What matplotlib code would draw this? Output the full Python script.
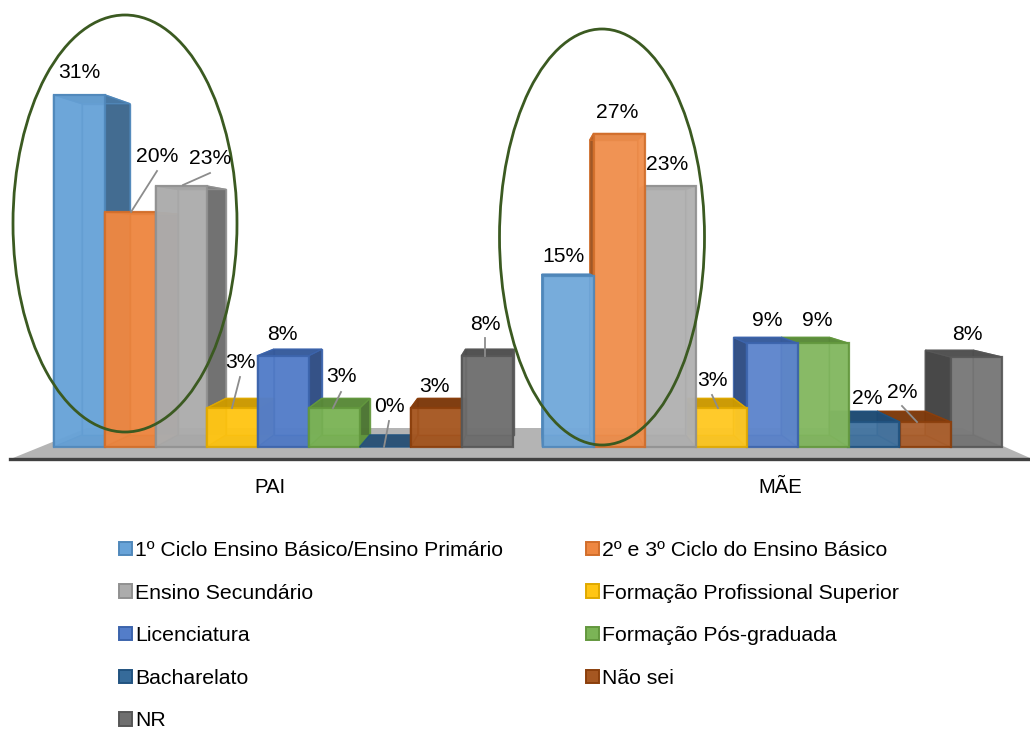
import matplotlib
matplotlib.use("Agg")
import matplotlib.pyplot as plt
from matplotlib.patches import Polygon, Ellipse, Patch
from matplotlib.colors import to_rgb

plt.rcParams['font.family'] = ['Liberation Sans', 'DejaVu Sans']

# ---- data ----
groups = ["PAI", "MÃE"]
series = ["1º Ciclo Ensino Básico/Ensino Primário", "2º e 3º Ciclo do Ensino Básico",
          "Ensino Secundário", "Formação Profissional Superior", "Licenciatura",
          "Formação Pós-graduada", "Bacharelato", "Não sei", "NR"]
pai_values = [30.9, 20.6, 22.9, 3.4, 8.0, 3.4, 0.0, 3.4, 8.0]
mae_values = [15.0, 27.5, 22.9, 3.4, 9.1, 9.1, 2.2, 2.2, 7.9]
pai_labels = ["31%", "20%", "23%", "3%", "8%", "3%", "0%", "3%", "8%"]
mae_labels = ["15%", "27%", "23%", "3%", "9%", "9%", "2%", "2%", "8%"]
colors = ["#5B9BD5", "#ED7D31", "#A5A5A5", "#FFC000", "#4472C4",
          "#70AD47", "#255E91", "#9E480E", "#636363"]

# ---- layout (reference pixels) ----
W, H = 1030, 729
X0, DX, Y0, SY = 283, 489, 447, 11.4
AX_L, AX_B = 10, 459
BAR_W = 51 / DX
FS = 15.2
def px(x): return (x - X0) / DX
def py(y): return (Y0 - y) / SY

tick_px = [270, 780]
pai_label_pos = [(79, 72), (157, 155), (210, 158), (240, 362), (282, 333),
                 (341, 375), (389, 406), (434, 386), (485, 323)]
mae_label_pos = [(563, 255), (617, 111), (667, 163), (712, 380), (767, 320),
                 (817, 320), (867, 398), (902, 391), (967, 333)]
leaders = [((157, 171), (131, 212)), ((210, 173), (183, 185)), ((240, 377), (232, 408)),
           ((341, 392), (333, 408)), ((389, 421), (384, 447)), ((485, 338), (485, 356)),
           ((712, 395), (718, 408)), ((902, 406), (917, 422))]

VX, VY, K = px(530), py(245), 0.06
def back(x, y): return (x + K * (VX - x), y + K * (VY - y))
def shade(c, f): return tuple(v * f for v in to_rgb(c))
def mix(c, f): return tuple(v + (1 - v) * f for v in to_rgb(c))

fig = plt.figure(figsize=(W / 100, H / 100), dpi=100, facecolor="white")
ax = fig.add_axes([AX_L / W, (H - AX_B) / H, (W - AX_L) / W, AX_B / H])
ax.set_xlim(px(AX_L), px(W))
ax.set_ylim(py(AX_B), py(0))
ax.set_yticks([])
ax.set_xticks([px(t) for t in tick_px], groups, fontsize=FS - 0.6)
ax.tick_params(axis="x", length=0, pad=14)
for s in ("top", "left", "right"):
    ax.spines[s].set_visible(False)
ax.spines["bottom"].set_color("#404040")
ax.spines["bottom"].set_linewidth(2.4)

# floor
ax.add_patch(Polygon([(px(13), py(458)), (px(87), py(428)), (px(962), py(428)), (px(1030), py(458))],
                     closed=True, fc="#B4B4B4", ec="none", zorder=1))

def draw_bar(x, v, c, z, light):
    x0, x1 = x - BAR_W / 2, x + BAR_W / 2
    edge = shade(c, 0.88)
    bl0, bl1 = back(x0, 0), back(x1, 0)
    tl0, tl1 = back(x0, v), back(x1, v)
    outer_right = bl1[0] > x1
    dark = shade(c, 0.62)
    lite = mix(c, 0.1)
    if v > 0:
        ax.add_patch(Polygon([bl0, bl1, tl1, tl0], fc=mix(c, 0.12), ec=edge, lw=1.0, alpha=0.85, zorder=z))
        ax.add_patch(Polygon([(x0, 0), bl0, tl0, (x0, v)], fc=lite if outer_right else dark,
                             ec=edge, lw=1.0, alpha=0.85, zorder=z))
        ax.add_patch(Polygon([(x1, 0), bl1, tl1, (x1, v)], fc=dark if outer_right else lite,
                             ec=edge, lw=1.0, alpha=0.85, zorder=z))
        ax.add_patch(Polygon([(x0, 0), (x1, 0), bl1, bl0], fc=shade(c, 0.9), ec="none", alpha=0.8, zorder=z))
    ax.add_patch(Polygon([(x0, v), (x1, v), tl1, tl0], fc=shade(c, 0.78), ec=edge, lw=1.0, alpha=0.9, zorder=z))
    if v > 0:
        ax.bar(x, v, BAR_W, color=mix(c, light) + (0.8,), edgecolor=edge + (0.9,), linewidth=1.6, zorder=z)

n = len(series)
for i in range(n):
    off = (i - (n - 1) / 2) * BAR_W
    draw_bar(0 + off, pai_values[i], colors[i], 2 + i * 0.01, 0.08)
    draw_bar(1 + off, mae_values[i], colors[i], 3 - i * 0.01, 0.15)

for (a, b) in leaders:
    ax.plot([px(a[0]), px(b[0])], [py(a[1]), py(b[1])], color="#8C8C8C", lw=1.3, zorder=4)
for labs, pos in ((pai_labels, pai_label_pos), (mae_labels, mae_label_pos)):
    for t, (x, y) in zip(labs, pos):
        ax.text(px(x), py(y + 1), t, ha="center", va="center", fontsize=FS, color="black", zorder=6)

for cx, cy, w, h in ((125, 223.5, 224, 417), (602, 237, 205, 416)):
    ax.add_patch(Ellipse((px(cx), py(cy)), w / DX, h / SY, fc="none", ec="#3B5A21", lw=2, zorder=5))

order = [0, 2, 4, 6, 8, 1, 3, 5, 7]
handles = [Patch(fc=mix(colors[i], 0.08), ec=shade(colors[i], 0.88), lw=1.4, label=series[i]) for i in order]
fig.legend(handles=handles, ncols=2, loc="upper left", bbox_to_anchor=(119 / W, 1 - 541 / H),
           frameon=False, fontsize=FS + 0.1, borderpad=0, borderaxespad=0,
           handlelength=0.6, handleheight=0.6, handletextpad=0.15,
           labelspacing=1.11, columnspacing=3.9)

fig.savefig("out.png", dpi=100)
